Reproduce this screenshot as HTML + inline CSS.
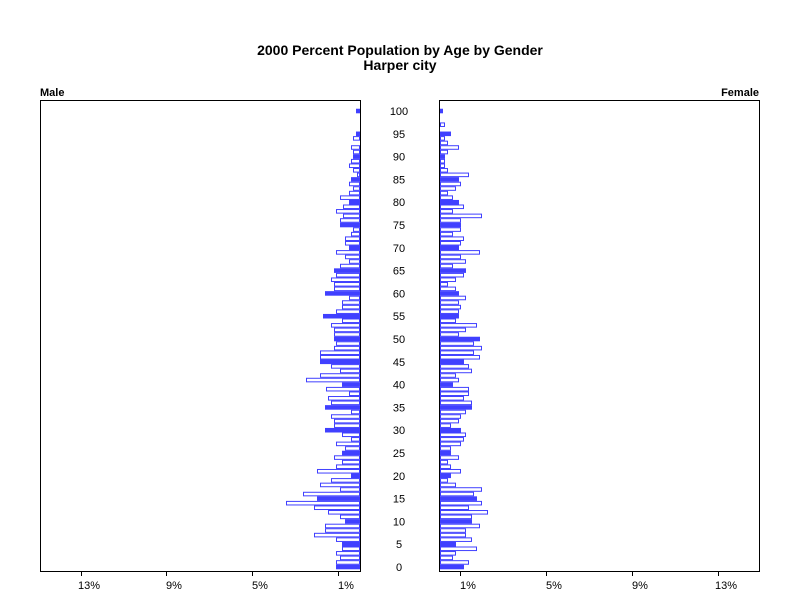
<!DOCTYPE html>
<html><head><style>body{margin:0;background:#fff}svg{display:block}text{font-family:"Liberation Sans",sans-serif}</style></head>
<body>
<svg id="s" width="800" height="600" xmlns="http://www.w3.org/2000/svg">
<text x="400" y="55" text-anchor="middle" font-size="14" font-weight="bold">2000 Percent Population by Age by Gender</text>
<text x="400" y="70" text-anchor="middle" font-size="14" font-weight="bold">Harper city</text>
<text x="40" y="96" font-size="11" font-weight="bold">Male</text>
<text x="759" y="96" font-size="11" font-weight="bold" text-anchor="end">Female</text>
<rect x="40.5" y="100.5" width="320" height="471" fill="none" stroke="#000"/>
<rect x="439.5" y="100.5" width="320" height="471" fill="none" stroke="#000"/>
<g id="g"></g>
</svg>
<script>
var L=[24,24,20,24,18,18,24,46,35,35,15,20,32,46,74,43,57,20,40,29,9,43,24,18,26,18,15,24,9,18,35,26,26,29,9,35,29,32,11,34,18,54,40,20,29,40,40,40,26,24,26,26,26,29,18,37,24,18,18,11,35,26,26,29,24,26,20,11,15,24,11,15,15,9,7,20,20,17,24,17,11,20,11,7,11,9,3,7,11,9,7,7,9,0,7,4,0,0,0,0,4];
var R=[24,29,13,16,37,16,32,26,26,40,32,32,48,29,42,37,34,42,16,8,11,21,11,8,19,11,11,21,24,26,21,11,19,21,26,32,32,24,29,29,13,19,16,32,29,24,40,34,42,34,40,19,26,37,16,19,19,21,19,26,19,16,8,16,24,26,13,26,21,40,19,21,24,13,21,21,21,42,13,24,19,13,8,16,21,19,29,8,5,5,5,8,19,8,5,11,0,5,0,0,3];
var s="",h=4.56,c="#4040ff";
for(var a=0;a<=100;a++){var y=569.3-(a+1)*h+0.5;var f=a%5==0;
 if(L[a]>0)s+='<rect x="'+(360-L[a]+0.5)+'" y="'+y+'" width="'+(L[a]-1)+'" height="'+(h-1)+'" fill="'+(f?c:'#fff')+'" stroke="'+c+'"/>';
 if(R[a]>0)s+='<rect x="'+(440.5)+'" y="'+y+'" width="'+(R[a]-1)+'" height="'+(h-1)+'" fill="'+(f?c:'#fff')+'" stroke="'+c+'"/>';
 if(f)s+='<text x="399" y="'+(571-a*4.56)+'" font-size="11" text-anchor="middle">'+a+'</text>';}
var lt=[[338,"1%"],[252,"5%"],[166,"9%"],[81,"13%"]],rt=[[460,"1%"],[546,"5%"],[632,"9%"],[718,"13%"]];
lt.concat(rt).forEach(function(t){s+='<line x1="'+(t[0]+0.5)+'" y1="571" x2="'+(t[0]+0.5)+'" y2="576" stroke="#000"/><text x="'+(t[0]+8)+'" y="589" font-size="11" text-anchor="middle">'+t[1]+'</text>';});
document.getElementById("g").innerHTML=s;
</script>
</body></html>
